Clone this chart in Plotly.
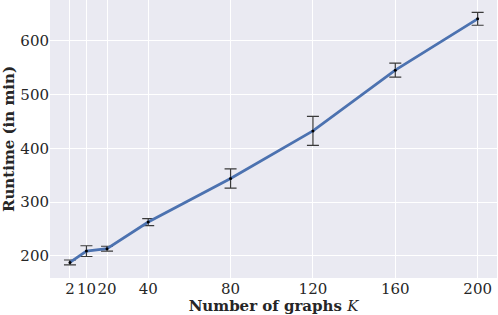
import plotly.graph_objects as go

K = [2, 10, 20, 40, 80, 120, 160, 200]
runtime = [188, 209, 213.5, 263, 344, 432.5, 545.5, 641]
err = [4.5, 10, 4.5, 6.5, 18, 27, 13, 12]
xticks = [2, 10, 20, 40, 80, 120, 160, 200]
yticks = [200, 300, 400, 500, 600]

fig = go.Figure()
fig.add_trace(go.Scatter(
    x=K, y=runtime, mode="lines+markers",
    line=dict(color="#4C72B0", width=2.8),
    marker=dict(size=3, color="black"),
    error_y=dict(type="data", array=err, color="#3a3a3a", thickness=1.2, width=6),
    showlegend=False,
))
fig.update_layout(
    width=498, height=315,
    margin=dict(l=50, r=1, t=0, b=37, autoexpand=False),
    paper_bgcolor="white", plot_bgcolor="#EAEAF2",
    font=dict(family="DejaVu Serif", size=15, color="#262626"),
)
fig.update_xaxes(
    range=[-7.7, 209.4], tickvals=xticks, ticktext=[str(t) for t in xticks],
    showgrid=True, gridcolor="white", gridwidth=1, zeroline=False, showline=False,
    ticks="", tickfont=dict(size=15), tickangle=0, automargin=False,
    title=dict(text="<b>Number of graphs </b><i>K</i>", font=dict(size=15), standoff=0),
)
fig.update_yaxes(
    range=[159, 676], tickvals=yticks,
    showgrid=True, gridcolor="white", gridwidth=1, zeroline=False, showline=False,
    ticks="", tickfont=dict(size=15), automargin=False,
    title=dict(text="<b>Runtime (in min)</b>", font=dict(size=15), standoff=2),
)
fig.write_html("out.html", config={"displayModeBar": False},
               post_script="document.body.style.margin='0';document.body.style.overflow='hidden';")
